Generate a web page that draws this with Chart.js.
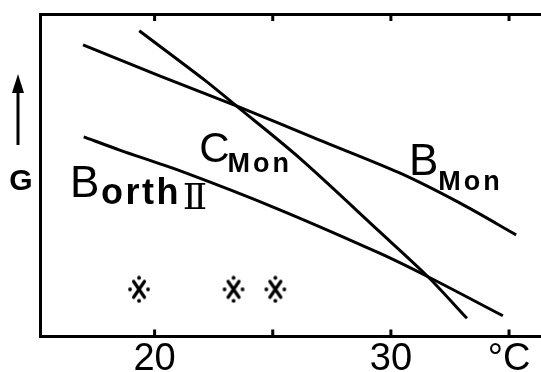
<!DOCTYPE html>
<html>
<head>
<meta charset="utf-8">
<script src="https://cdn.jsdelivr.net/npm/chart.js@4/dist/chart.umd.min.js"></script>
<style>
  html, body { margin: 0; padding: 0; background: #fff; overflow: hidden; }
  /* the frame runs off the right edge of the picture, so the canvas is wider than the window */
  #wrap { position: relative; width: 600px; height: 382px; }
</style>
</head>
<body>
<div id="wrap"><canvas id="chart"></canvas></div>
<script>
// temperature axis (°C)
const tempTicks = [20, 25, 30, 35];
const tempLabels = ['20', '', '30', '°C'];
const tempMin = 15.15;
const tempMax = 38.85;

// free energy G, arbitrary units (0 = bottom of frame, 100 = top)
const bMonT = [16.97, 20.21, 23.46, 26.98, 30.37, 32.91, 35.30];
const bMonG = [90.4, 80.8, 71.5, 60.9, 50.7, 41.4, 31.5];

const cMonT = [19.35, 22.12, 23.46, 26.14, 29.52, 31.57, 33.22];
const cMonG = [94.8, 79.5, 71.5, 55.3, 32.5, 18.5, 5.6];

const bOrthT = [17.0, 18.52, 21.06, 25.12, 29.52, 31.57, 34.74];
const bOrthG = [61.9, 57.8, 51.4, 39.8, 25.8, 18.5, 6.4];

// transition points marked with asterisks
const starT = [19.34, 23.34, 25.11];
const starG = [14.6, 14.6, 14.6];

const pts = (xs, ys) => xs.map((x, i) => ({ x: x, y: ys[i] }));

// asterisk-like marker: an X with four dots around it
function makeStar() {
    const c = document.createElement('canvas');
    c.width = 26; c.height = 28;
    const g = c.getContext('2d');
    g.strokeStyle = '#000';
    g.fillStyle = '#000';
    g.lineWidth = 3.2;
    g.lineCap = 'round';
    g.beginPath();
    g.moveTo(7.5, 6); g.lineTo(18.5, 22);
    g.moveTo(18.5, 6); g.lineTo(7.5, 22);
    g.stroke();
    [[13, 2.5], [13, 25.5], [4, 14], [22, 14]].forEach(([x, y]) => {
        g.beginPath(); g.arc(x, y, 1.9, 0, Math.PI * 2); g.fill();
    });
    return c;
}

const curveLabels = [
    { text: 'B', t: 16.42, g: 43.3, font: '44px "Liberation Sans"', spacing: 0 },
    { text: 'orth', t: 17.73, g: 41.1, font: 'bold 36px "Liberation Sans"', spacing: 2.5 },
    { text: 'Ⅱ', t: 21.19, g: 39.5, font: '36px "DejaVu Serif"', spacing: 0 },
    { text: 'C', t: 21.89, g: 54.1, font: '42px "Liberation Sans"', spacing: 0 },
    { text: 'Mon', t: 23.09, g: 51.0, font: 'bold 27px "Liberation Sans"', spacing: 3 },
    { text: 'B', t: 30.77, g: 50.1, font: '44px "Liberation Sans"', spacing: 0 },
    { text: 'Mon', t: 32.0, g: 45.4, font: 'bold 27px "Liberation Sans"', spacing: 3 }
];

const annotate = {
    id: 'annotate',
    afterDatasetsDraw(chart) {
        const { ctx, chartArea, scales } = chart;
        ctx.save();
        ctx.fillStyle = '#000';
        ctx.strokeStyle = '#000';
        ctx.textBaseline = 'alphabetic';
        ctx.textAlign = 'left';
        curveLabels.forEach(l => {
            ctx.font = l.font;
            ctx.letterSpacing = l.spacing + 'px';
            ctx.fillText(l.text, scales.x.getPixelForValue(l.t), scales.y.getPixelForValue(l.g));
        });
        ctx.letterSpacing = '0px';

        // inward ticks on top and bottom edges
        ctx.lineWidth = 3;
        tempTicks.forEach(v => {
            const x = scales.x.getPixelForValue(v);
            ctx.beginPath();
            ctx.moveTo(x, chartArea.bottom); ctx.lineTo(x, chartArea.bottom - 7);
            ctx.moveTo(x, chartArea.top); ctx.lineTo(x, chartArea.top + 7);
            ctx.stroke();
        });

        // G with an upward arrow, left of the frame
        const ax = chartArea.left - 22;
        ctx.lineWidth = 3;
        ctx.beginPath();
        ctx.moveTo(ax, 145); ctx.lineTo(ax, 88);
        ctx.stroke();
        ctx.beginPath();
        ctx.moveTo(ax, 74); ctx.lineTo(ax - 6, 93); ctx.lineTo(ax + 6, 93);
        ctx.closePath(); ctx.fill();
        ctx.font = 'bold 30px "Liberation Sans"';
        ctx.textAlign = 'center';
        ctx.fillText('G', ax + 3, 190);
        ctx.restore();
    }
};

const lineStyle = {
    showLine: true,
    borderColor: '#000',
    borderWidth: 3,
    pointRadius: 0,
    tension: 0.3,
    fill: false
};

new Chart(document.getElementById('chart'), {
    type: 'scatter',
    data: {
        datasets: [
            { label: 'B Mon', data: pts(bMonT, bMonG), ...lineStyle },
            { label: 'C Mon', data: pts(cMonT, cMonG), ...lineStyle },
            { label: 'B orth II', data: pts(bOrthT, bOrthG), ...lineStyle },
            {
                label: 'transitions',
                data: pts(starT, starG),
                showLine: false,
                pointStyle: makeStar(),
                pointRadius: 10
            }
        ]
    },
    options: {
        responsive: true,
        maintainAspectRatio: false,
        animation: false,
        layout: { autoPadding: false, padding: { left: 40, top: 14, right: 0, bottom: 0 } },
        plugins: { legend: { display: false }, tooltip: { enabled: false } },
        scales: {
            x: {
                type: 'linear',
                position: 'bottom',
                min: tempMin,
                max: tempMax,
                afterBuildTicks: s => { s.ticks = tempTicks.map(v => ({ value: v })); },
                ticks: {
                    callback: v => tempLabels[tempTicks.indexOf(v)] ?? '',
                    font: { family: 'Liberation Sans', size: 38 },
                    color: '#000',
                    padding: 0,
                    maxRotation: 0,
                    autoSkip: false
                },
                grid: { display: false, drawTicks: false },
                border: { display: true, color: '#000', width: 3 }
            },
            xTop: {
                type: 'linear',
                position: 'top',
                min: tempMin,
                max: tempMax,
                ticks: { display: false },
                grid: { display: false, drawTicks: false },
                border: { display: true, color: '#000', width: 3 }
            },
            y: {
                min: 0,
                max: 100,
                ticks: { display: false },
                grid: { display: false, drawTicks: false },
                border: { display: true, color: '#000', width: 3 }
            }
        }
    },
    plugins: [annotate]
});
</script>
</body>
</html>
